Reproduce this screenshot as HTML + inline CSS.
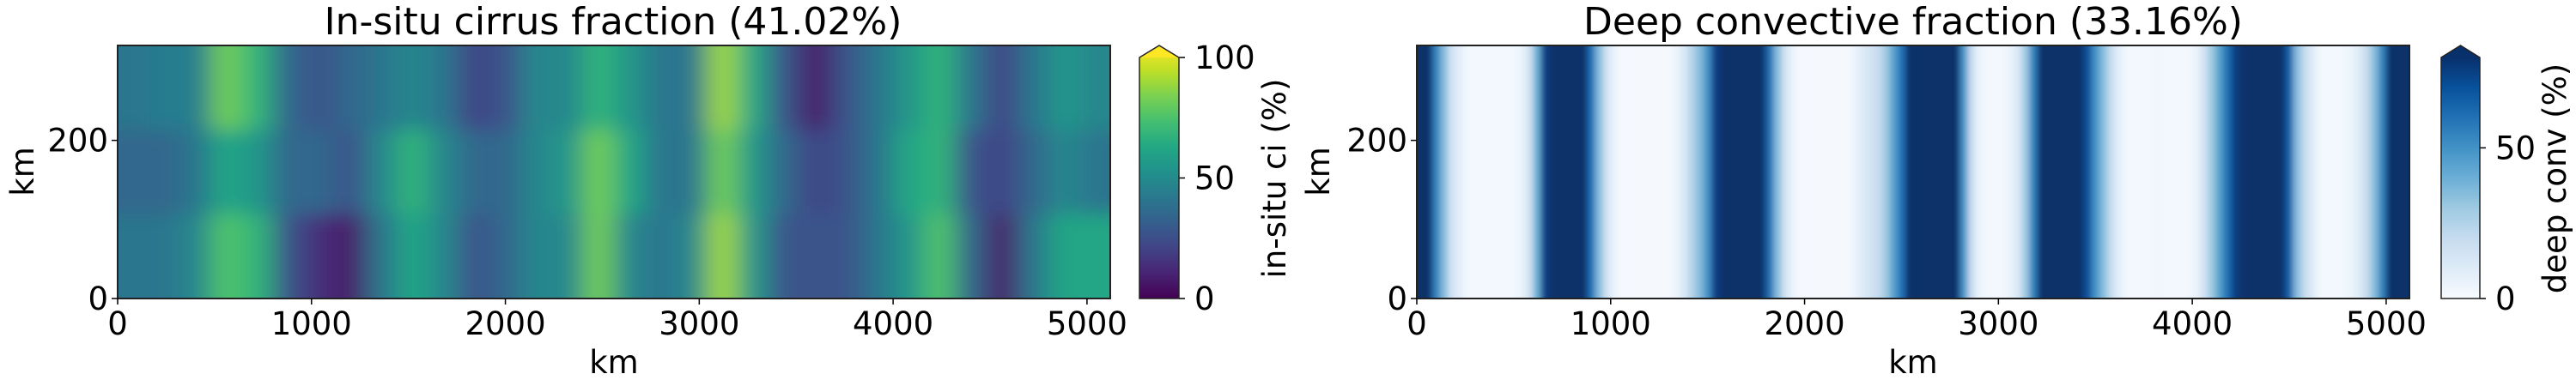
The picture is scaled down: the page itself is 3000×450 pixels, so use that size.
<!DOCTYPE html>
<html><head><meta charset="utf-8"><style>
html,body{margin:0;padding:0;background:#fff;}
svg{display:block;font-family:"DejaVu Sans","Liberation Sans",sans-serif;}
text{fill:#000;}
</style></head><body>
<svg id="fig" width="3000" height="450" viewBox="0 0 3000 450" xmlns="http://www.w3.org/2000/svg">
<defs>
<filter id="blurC" x="-5%" y="-20%" width="110%" height="140%"><feGaussianBlur stdDeviation="15 11"/></filter>
<filter id="blurD" x="-5%" y="-20%" width="110%" height="140%"><feGaussianBlur stdDeviation="3.5 0"/></filter>
<clipPath id="clipL"><rect x="137" y="53" width="1156" height="295"/></clipPath>
<clipPath id="clipR"><rect x="1650" y="53" width="1156" height="295"/></clipPath>
<linearGradient id="gradV" x1="0" y1="1" x2="0" y2="0">
<stop offset="0" stop-color="#440154"/><stop offset="0.1" stop-color="#482475"/><stop offset="0.2" stop-color="#414487"/><stop offset="0.3" stop-color="#355f8d"/><stop offset="0.4" stop-color="#2a788e"/><stop offset="0.5" stop-color="#21918c"/><stop offset="0.6" stop-color="#22a884"/><stop offset="0.7" stop-color="#44bf70"/><stop offset="0.8" stop-color="#7ad151"/><stop offset="0.9" stop-color="#bddf26"/><stop offset="1" stop-color="#fde725"/>
</linearGradient>
<linearGradient id="gradB" x1="0" y1="1" x2="0" y2="0">
<stop offset="0" stop-color="#f7fbff"/><stop offset="0.125" stop-color="#deebf7"/><stop offset="0.25" stop-color="#c6dbef"/><stop offset="0.375" stop-color="#9ecae1"/><stop offset="0.5" stop-color="#6baed6"/><stop offset="0.625" stop-color="#4292c6"/><stop offset="0.75" stop-color="#2171b5"/><stop offset="0.875" stop-color="#08519c"/><stop offset="1" stop-color="#08306b"/>
</linearGradient>
</defs>

<text x="714" y="40" font-size="44" text-anchor="middle">In-situ cirrus fraction (41.02%)</text>
<text x="2228" y="40" font-size="44" text-anchor="middle">Deep convective fraction (33.16%)</text>

<g id="heatL" clip-path="url(#clipL)"><g id="heatLin" filter="url(#blurC)"></g></g>
<g id="heatR" clip-path="url(#clipR)"><g id="heatRin" filter="url(#blurD)"></g></g>

<rect x="137" y="53" width="1156" height="295" fill="none" stroke="#222" stroke-width="2"/>
<rect x="1650" y="53" width="1156" height="295" fill="none" stroke="#222" stroke-width="2"/>
<g id="axes"></g>

<text x="715" y="435" font-size="37" text-anchor="middle">km</text>
<text x="2228" y="435" font-size="37" text-anchor="middle">km</text>
<text transform="translate(39,200) rotate(-90)" font-size="37" text-anchor="middle">km</text>
<text transform="translate(1548,200) rotate(-90)" font-size="37" text-anchor="middle">km</text>

<g>
<path d="M1327,67 L1350,53 L1373,67 L1373,348 L1327,348 Z" fill="url(#gradV)" stroke="none"/>
<path d="M1327,67 L1350,53 L1373,67 Z" fill="#fde725"/>
<path d="M1327,67 L1350,53 L1373,67 L1373,348 L1327,348 Z" fill="none" stroke="#222" stroke-width="1.5"/>
</g>
<g>
<rect x="2843" y="67" width="45" height="281" fill="url(#gradB)"/>
<path d="M2843,67 L2865.5,53 L2888,67 Z" fill="#08306b"/>
<path d="M2843,67 L2865.5,53 L2888,67 L2888,348 L2843,348 Z" fill="none" stroke="#222" stroke-width="1.5"/>
</g>
<text transform="translate(1497,208) rotate(-90)" font-size="37" text-anchor="middle">in-situ ci (%)</text>
<text transform="translate(2988,208) rotate(-90)" font-size="37" text-anchor="middle">deep conv (%)</text>
</svg>
<script>
// ---- data ----
const xTicks = [0, 1000, 2000, 3000, 4000, 5000];
const yTicks = [0, 200];
const cbTicksL = [0, 50, 100];
const cbTicksR = [0, 50];
// cirrus: 32 columns of 160 km, rows top/mid/bottom (values in %)
const cirrusTop = [39,42,42,78,65,33,26,33,39,46,39,20,26,46,46,65,52,39,39,85,59,26,7,26,39,52,65,39,20,39,52,46];
const cirrusMid = [33,33,39,59,52,33,33,26,46,65,46,33,33,46,52,78,59,39,39,78,52,33,20,26,39,59,65,26,20,33,46,39];
const cirrusBot = [39,39,46,72,65,26,13,7,39,59,46,26,33,46,46,78,46,39,46,85,52,26,26,26,39,52,72,33,7,39,59,59];
// deep convection: 128 columns of 40 km
const deepConv = [90,80,55,35,15,8,2,2,2,2,2,2,2,5,15,40,75,95,95,95,95,95,60,35,15,5,1,1,1,1,1,1,1,5,12,25,35,50,75,95,95,95,95,95,95,60,35,15,5,1,1,1,1,1,1,1,5,10,15,20,30,45,60,80,95,95,95,95,95,95,50,20,5,2,2,2,5,12,30,55,85,95,95,95,95,95,70,50,35,20,8,2,2,2,2,3,2,2,2,2,5,15,30,45,60,75,95,95,95,95,95,95,65,35,20,10,2,2,2,2,5,10,20,35,55,80,95,95];

// ---- scales ----
const xMax = 5120, yMax = 320;
const xL = v => 137 + v / xMax * 1156;
const xR = v => 1650 + v / xMax * 1156;
const yS = v => 348 - v / yMax * 295;
const cbL = v => 348 - v / 100 * 281;
const cbR = v => 348 - v / 80 * 281;

const V = ["#440154","#482475","#414487","#355f8d","#2a788e","#21918c","#22a884","#44bf70","#7ad151","#bddf26","#fde725"];
const B = ["#f7fbff","#deebf7","#c6dbef","#9ecae1","#6baed6","#4292c6","#2171b5","#08519c","#08306b"];
function hex(h){return [1,3,5].map(i=>parseInt(h.substr(i,2),16));}
function cmap(stops,t){t=Math.max(0,Math.min(1,t));const n=stops.length-1;const i=Math.min(n-1,Math.floor(t*n));const f=t*n-i;const a=hex(stops[i]),b=hex(stops[i+1]);return "rgb("+a.map((c,k)=>Math.round(c+(b[k]-c)*f)).join(",")+")";}
const NS="http://www.w3.org/2000/svg";
function mk(tag,attrs,parent){const e=document.createElementNS(NS,tag);for(const k in attrs)e.setAttribute(k,attrs[k]);parent.appendChild(e);return e;}

// cirrus cells
const gL=document.getElementById('heatLin');
const rows=[cirrusTop,cirrusMid,cirrusBot];
const colW=xMax/cirrusTop.length, rowH=yMax/rows.length;
rows.forEach((row,ri)=>{
  row.forEach((v,ci)=>{
    let x0=xL(ci*colW), x1=xL((ci+1)*colW);
    let y0=yS(yMax-ri*rowH), y1=yS(yMax-(ri+1)*rowH);
    if(ci===0)x0-=60; if(ci===row.length-1)x1+=60;
    if(ri===0)y0-=60; if(ri===rows.length-1)y1+=60;
    const r=mk('rect',{x:x0,y:y0,width:x1-x0+0.5,height:y1-y0+0.5,fill:cmap(V,v/100)},gL);
    
    
  });
});
// deep conv columns
const gR=document.getElementById('heatRin');
const dW=xMax/deepConv.length;
deepConv.forEach((v,ci)=>{
  let x0=xR(ci*dW), x1=xR((ci+1)*dW);
  if(ci===0)x0-=30; if(ci===deepConv.length-1)x1+=30;
  const r=mk('rect',{x:x0,y:20,width:x1-x0+0.5,height:360,fill:cmap(B,v/80)},gR);
  
  
});

// axes
const ax=document.getElementById('axes');
[[xL,'left'],[xR,'right']].forEach(([xs,side])=>{
  xTicks.forEach(t=>{
    const x=xs(t);
    const l=mk('line',{x1:x,y1:348,x2:x,y2:355,stroke:'#000','stroke-width':1.5},ax);
    
    
    const tx=mk('text',{x:x,y:390,'font-size':37,'text-anchor':'middle'},ax);tx.textContent=t;
    
    
  });
  const x0=side==='left'?137:1650;
  yTicks.forEach(t=>{
    const y=yS(t);
    const l=mk('line',{x1:x0-7,y1:y,x2:x0,y2:y,stroke:'#000','stroke-width':1.5},ax);
    
    
    const tx=mk('text',{x:x0-11,y:y+13,'font-size':37,'text-anchor':'end'},ax);tx.textContent=t;
    
    
  });
});
cbTicksL.forEach(t=>{
  const y=cbL(t);
  const l=mk('line',{x1:1373,y1:y,x2:1380,y2:y,stroke:'#000','stroke-width':1.5},ax);
  
  
  const tx=mk('text',{x:1391,y:y+13,'font-size':37},ax);tx.textContent=t;
  
  
});
cbTicksR.forEach(t=>{
  const y=cbR(t);
  const l=mk('line',{x1:2888,y1:y,x2:2895,y2:y,stroke:'#000','stroke-width':1.5},ax);
  
  
  const tx=mk('text',{x:2906,y:y+13,'font-size':37},ax);tx.textContent=t;
  
  
});
</script>
</body></html>
